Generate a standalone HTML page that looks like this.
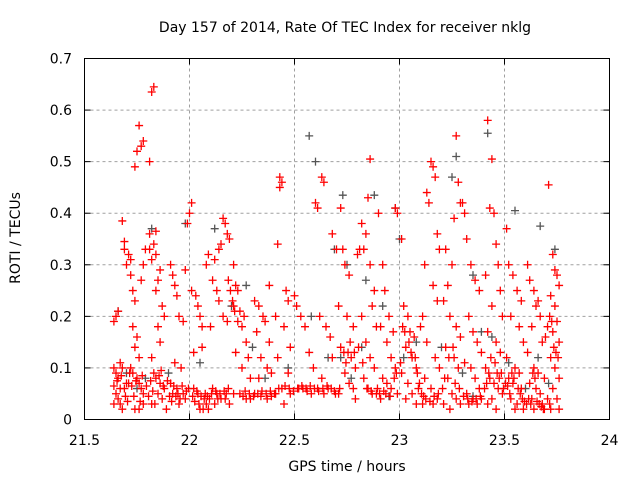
<!DOCTYPE html>
<html><head><meta charset="utf-8"><style>
html,body{margin:0;padding:0;background:#fff;}
svg{display:block;font-family:"DejaVu Sans","Liberation Sans",sans-serif;}
</style></head><body>
<svg id="chart" width="640" height="480">
<text x="345" y="32" font-size="14" text-anchor="middle" fill="#000">Day 157 of 2014, Rate Of TEC Index for receiver nklg</text>
<text x="347" y="471" font-size="14" text-anchor="middle" fill="#000">GPS time / hours</text>
<text transform="translate(20,238) rotate(-90)" font-size="14" text-anchor="middle" fill="#000">ROTI / TECUs</text>
<g id="grid"></g>
<g id="ticks"></g>
<g id="gray"></g>
<g id="red"></g>
<rect x="84.5" y="58.5" width="525" height="361" fill="none" stroke="#000" stroke-width="1"/>
</svg>
<script>
const xTicks = [21.5, 22, 22.5, 23, 23.5, 24];
const xTickLabels = ["21.5", "22", "22.5", "23", "23.5", "24"];
const yTicks = [0, 0.1, 0.2, 0.3, 0.4, 0.5, 0.6, 0.7];
const yTickLabels = ["0", "0.1", "0.2", "0.3", "0.4", "0.5", "0.6", "0.7"];
const redPoints = [
[21.64,0.19],[21.65,0.20],[21.64,0.10],[21.65,0.09],[21.66,0.08],[21.64,0.065],[21.67,0.06],[21.65,0.05],[21.66,0.04],[21.64,0.03],[21.68,0.02],[21.68,0.385],[21.69,0.345],[21.69,0.33],[21.70,0.30],[21.66,0.21],[21.67,0.11],[21.68,0.10],[21.69,0.06],[21.67,0.03],[21.70,0.07],
[21.71,0.32],[21.72,0.31],[21.72,0.28],[21.73,0.25],[21.74,0.23],[21.73,0.18],[21.75,0.16],[21.74,0.14],[21.76,0.12],[21.72,0.10],[21.73,0.09],[21.75,0.08],[21.76,0.07],[21.77,0.06],[21.78,0.05],[21.71,0.07],[21.74,0.02],[21.76,0.02],[21.78,0.03],[21.79,0.33],[21.78,0.30],[21.77,0.27],
[21.76,0.57],[21.75,0.52],[21.74,0.49],[21.77,0.53],[21.78,0.54],[21.82,0.635],[21.83,0.645],[21.81,0.50],
[21.81,0.33],[21.83,0.34],[21.84,0.32],[21.82,0.31],[21.86,0.29],[21.85,0.27],[21.84,0.25],[21.87,0.22],[21.88,0.20],[21.85,0.18],[21.86,0.15],[21.82,0.12],[21.83,0.09],[21.84,0.08],[21.86,0.07],[21.88,0.06],[21.85,0.05],[21.87,0.04],[21.82,0.03],[21.89,0.02],[21.81,0.36],[21.84,0.365],
[21.91,0.30],[21.92,0.28],[21.93,0.26],[21.94,0.24],[21.95,0.20],[21.97,0.19],[21.93,0.11],[21.96,0.10],[21.91,0.07],[21.94,0.06],[21.97,0.05],[21.92,0.05],[21.98,0.04],[21.95,0.03],[21.99,0.38],[22.00,0.40],[22.01,0.42],[21.98,0.29],
[22.01,0.25],[22.03,0.24],[22.04,0.22],[22.05,0.20],[22.06,0.18],[22.02,0.06],[22.04,0.05],[22.07,0.04],[22.08,0.03],[22.05,0.02],[22.09,0.02],[22.08,0.30],[22.09,0.32],[22.02,0.13],[22.06,0.14],
[22.16,0.39],[22.17,0.38],[22.18,0.36],[22.19,0.35],[22.15,0.34],[22.14,0.33],[22.12,0.31],[22.11,0.27],[22.13,0.25],[22.14,0.23],[22.16,0.20],[22.18,0.19],[22.11,0.06],[22.13,0.05],[22.15,0.04],[22.17,0.04],[22.12,0.03],[22.19,0.03],[22.10,0.18],
[22.21,0.30],[22.22,0.26],[22.23,0.25],[22.21,0.22],[22.24,0.21],[22.26,0.20],[22.25,0.18],[22.27,0.15],[22.22,0.13],[22.28,0.12],[22.25,0.10],[22.29,0.08],[22.21,0.05],[22.24,0.05],[22.27,0.04],[22.29,0.04],[22.23,0.19],
[22.31,0.23],[22.33,0.22],[22.35,0.20],[22.36,0.19],[22.32,0.17],[22.38,0.15],[22.34,0.12],[22.37,0.10],[22.39,0.09],[22.33,0.08],[22.31,0.05],[22.34,0.045],[22.37,0.04],[22.39,0.045],[22.38,0.26],
[22.43,0.47],[22.44,0.46],[22.43,0.45],[22.42,0.34],[22.46,0.25],[22.47,0.23],[22.41,0.20],[22.45,0.18],[22.48,0.14],[22.42,0.12],[22.47,0.09],[22.44,0.06],[22.48,0.05],[22.41,0.05],[22.45,0.03],
[22.51,0.22],[22.53,0.20],[22.55,0.18],[22.57,0.13],[22.59,0.10],[22.52,0.06],[22.54,0.06],[22.56,0.055],[22.58,0.05],[22.50,0.24],[22.60,0.42],
[22.63,0.47],[22.64,0.46],[22.61,0.41],[22.62,0.20],[22.65,0.18],[22.67,0.16],[22.68,0.12],[22.63,0.08],[22.61,0.06],[22.66,0.06],[22.69,0.055],[22.64,0.05],[22.68,0.36],[22.70,0.33],
[22.72,0.41],[22.73,0.33],[22.74,0.30],[22.76,0.28],[22.71,0.22],[22.75,0.20],[22.78,0.18],[22.72,0.14],[22.77,0.12],[22.79,0.10],[22.74,0.09],[22.76,0.07],[22.78,0.06],[22.71,0.05],[22.79,0.04],[22.80,0.32],[22.81,0.33],
[22.86,0.505],[22.85,0.43],[22.82,0.38],[22.84,0.36],[22.83,0.33],[22.86,0.30],[22.88,0.25],[22.87,0.22],[22.82,0.20],[22.89,0.18],[22.84,0.15],[22.86,0.12],[22.88,0.10],[22.83,0.08],[22.85,0.06],[22.87,0.05],[22.89,0.05],[22.90,0.40],
[22.98,0.41],[22.99,0.40],[22.92,0.30],[22.93,0.25],[22.95,0.20],[22.91,0.18],[22.97,0.17],[22.94,0.15],[22.96,0.12],[22.98,0.10],[22.92,0.08],[22.94,0.07],[22.96,0.06],[22.99,0.05],[22.91,0.04],
[23.01,0.35],[23.02,0.22],[23.04,0.20],[23.05,0.17],[23.07,0.16],[23.03,0.14],[23.06,0.12],[23.08,0.10],[23.01,0.09],[23.04,0.07],[23.09,0.06],[23.06,0.05],[23.03,0.04],[23.08,0.03],[23.10,0.18],
[23.15,0.50],[23.16,0.49],[23.17,0.47],[23.13,0.44],[23.14,0.42],[23.18,0.36],[23.19,0.33],[23.12,0.30],[23.16,0.26],[23.18,0.23],[23.11,0.20],[23.13,0.15],[23.17,0.12],[23.19,0.10],[23.12,0.08],[23.15,0.06],[23.18,0.04],[23.11,0.03],[23.16,0.03],
[23.27,0.55],[23.28,0.46],[23.29,0.42],[23.26,0.39],[23.22,0.33],[23.25,0.30],[23.23,0.26],[23.21,0.23],[23.24,0.20],[23.27,0.18],[23.29,0.16],[23.22,0.14],[23.26,0.12],[23.28,0.10],[23.23,0.08],[23.25,0.05],[23.27,0.04],[23.21,0.03],[23.29,0.03],[23.24,0.02],
[23.30,0.42],[23.31,0.40],[23.32,0.35],[23.34,0.30],[23.36,0.27],[23.38,0.25],[23.33,0.20],[23.35,0.17],[23.37,0.15],[23.39,0.13],[23.31,0.11],[23.34,0.10],[23.36,0.08],[23.38,0.06],[23.32,0.05],[23.35,0.04],[23.39,0.04],[23.33,0.03],[23.37,0.03],
[23.42,0.58],[23.44,0.505],[23.43,0.41],[23.45,0.40],[23.46,0.34],[23.47,0.30],[23.41,0.28],[23.48,0.25],[23.44,0.22],[23.49,0.20],[23.42,0.17],[23.46,0.15],[23.48,0.13],[23.41,0.10],[23.43,0.08],[23.45,0.07],[23.47,0.06],[23.49,0.05],[23.44,0.04],[23.42,0.03],[23.46,0.02],
[23.51,0.37],[23.52,0.30],[23.54,0.28],[23.56,0.25],[23.58,0.23],[23.53,0.20],[23.57,0.18],[23.59,0.15],[23.51,0.12],[23.55,0.10],[23.57,0.09],[23.52,0.08],[23.54,0.07],[23.58,0.06],[23.53,0.04],[23.56,0.03],[23.59,0.02],[23.55,0.02],
[23.61,0.30],[23.62,0.27],[23.64,0.25],[23.66,0.23],[23.65,0.22],[23.67,0.20],[23.63,0.18],[23.68,0.15],[23.61,0.13],[23.64,0.10],[23.66,0.09],[23.69,0.08],[23.62,0.07],[23.65,0.06],[23.67,0.05],[23.63,0.04],[23.68,0.03],[23.64,0.02],[23.69,0.02],
[23.71,0.455],[23.73,0.32],[23.74,0.29],[23.75,0.28],[23.76,0.26],[23.72,0.24],[23.74,0.22],[23.75,0.19],[23.73,0.17],[23.76,0.15],[23.72,0.12],[23.74,0.10],[23.76,0.08],[23.73,0.06],[23.75,0.04],[23.72,0.02],[23.76,0.02],
[21.655,0.075],[21.675,0.085],[21.695,0.045],[21.705,0.035],[21.715,0.09],[21.725,0.065],[21.735,0.045],[21.745,0.075],[21.765,0.035],[21.775,0.085],[21.795,0.065],[21.805,0.045],[21.815,0.075],[21.825,0.055],[21.835,0.03],[21.855,0.085],[21.865,0.095],[21.875,0.065],[21.895,0.075],[21.905,0.045],[21.915,0.035],[21.925,0.065],[21.935,0.045],[21.945,0.05],[21.955,0.04],[21.965,0.065],[21.985,0.055],[21.995,0.06],[22.015,0.045],[22.025,0.035],[22.035,0.055],[22.045,0.03],[22.055,0.045],[22.065,0.02],[22.075,0.05],[22.085,0.045],[22.095,0.04],[22.105,0.05],[22.125,0.055],[22.135,0.04],[22.145,0.05],[22.165,0.055],[22.175,0.05],[22.185,0.06],[22.195,0.25],[22.205,0.23],[22.215,0.21],[22.185,0.27],
[22.255,0.045],[22.265,0.055],[22.285,0.05],[22.305,0.045],[22.325,0.05],[22.345,0.055],[22.365,0.05],[22.385,0.055],[22.405,0.05],[22.425,0.06],[22.455,0.065],[22.475,0.06],[22.495,0.055],[22.515,0.06],[22.535,0.065],[22.555,0.06],[22.575,0.065],[22.595,0.06],[22.615,0.055],[22.635,0.06],[22.655,0.065],[22.675,0.06],[22.695,0.05],[22.715,0.06],[22.735,0.13],[22.745,0.11],[22.755,0.13],[22.765,0.15],[22.785,0.13],[22.805,0.14],[22.825,0.11],[22.845,0.06],[22.865,0.055],[22.895,0.06],[22.905,0.05],[22.925,0.055],[22.935,0.05],[22.955,0.045],[22.975,0.08],[22.985,0.09],[23.005,0.11],[23.015,0.18],[23.025,0.17],[23.045,0.15],[23.055,0.13],[23.075,0.12],[23.085,0.09],[23.095,0.07],
[23.105,0.05],[23.115,0.045],[23.125,0.04],[23.145,0.035],[23.165,0.045],[23.185,0.05],[23.205,0.06],[23.215,0.08],[23.235,0.12],[23.255,0.14],[23.265,0.07],[23.285,0.06],[23.305,0.045],[23.325,0.04],[23.345,0.035],[23.365,0.04],[23.385,0.045],[23.405,0.06],[23.415,0.07],[23.425,0.09],[23.435,0.12],[23.455,0.11],[23.465,0.09],[23.475,0.08],[23.485,0.09],[23.495,0.06],[23.505,0.07],[23.515,0.065],[23.525,0.05],[23.535,0.09],[23.545,0.08],[23.565,0.06],[23.575,0.05],[23.585,0.04],[23.595,0.035],[23.605,0.03],[23.615,0.04],[23.625,0.03],[23.635,0.09],[23.645,0.08],[23.655,0.035],[23.665,0.03],[23.675,0.025],[23.685,0.02],[23.695,0.16],[23.705,0.18],[23.715,0.2],[23.725,0.19],[23.735,0.14],[23.745,0.13],[23.755,0.12],[23.705,0.04],[23.715,0.03]
];
const grayPoints = [
[22.57,0.55],[22.60,0.50],[23.27,0.51],[23.42,0.555],[23.25,0.47],[22.73,0.435],[22.88,0.435],[22.98,0.41],[23.00,0.35],[21.98,0.38],[21.82,0.37],[22.12,0.37],[22.27,0.26],[23.67,0.375],[23.55,0.405],[23.74,0.33],[22.69,0.33],[22.75,0.30],[23.35,0.28],
[21.66,0.21],[21.70,0.09],[21.75,0.06],[21.79,0.08],[21.90,0.09],[22.05,0.11],[22.20,0.22],[22.30,0.14],[22.36,0.08],[22.47,0.10],[22.58,0.20],[22.66,0.12],[22.72,0.12],[22.77,0.08],[22.84,0.27],[22.92,0.22],[23.02,0.12],[23.08,0.15],[23.20,0.14],[23.30,0.09],[23.39,0.17],[23.44,0.16],[23.52,0.11],[23.60,0.06],[23.66,0.12],[23.71,0.07],[23.35,0.045],[22.95,0.045],[22.82,0.14]
];
const X0=84.5, X1=609.5, Y0=419.5, Y1=58.5;
function xs(t){return X0+(t-21.5)/(24-21.5)*(X1-X0);}
function ys(v){return Y0-(v-0)/(0.7-0)*(Y0-Y1);}
const NS="http://www.w3.org/2000/svg";
const grid=document.getElementById('grid'), ticks=document.getElementById('ticks');
function mk(tag,attrs,parent){const e=document.createElementNS(NS,tag);for(const k in attrs)e.setAttribute(k,attrs[k]);parent.appendChild(e);return e;}
xTicks.forEach((t,i)=>{
  const x=xs(t);
  if(i>0&&i<xTicks.length-1){
    const g=mk('line',{x1:x,x2:x,y1:Y0,y2:Y1,stroke:'#a0a0a0','stroke-dasharray':'3,3'},grid);
    
    
  }
  mk('line',{x1:x,x2:x,y1:Y0,y2:Y0-6,stroke:'#000'},ticks);
  mk('line',{x1:x,x2:x,y1:Y1,y2:Y1+6,stroke:'#000'},ticks);
  const l=mk('text',{x:x,y:445,'font-size':14,'text-anchor':'middle',fill:'#000'},ticks);
  l.textContent=xTickLabels[i];
  
  
});
yTicks.forEach((v,i)=>{
  const y=ys(v);
  if(i>0&&i<yTicks.length-1){
    const g=mk('line',{x1:X0,x2:X1,y1:y,y2:y,stroke:'#a0a0a0','stroke-dasharray':'3,3'},grid);
    
    
  }
  mk('line',{x1:X0,x2:X0+6,y1:y,y2:y,stroke:'#000'},ticks);
  mk('line',{x1:X1,x2:X1-6,y1:y,y2:y,stroke:'#000'},ticks);
  const l=mk('text',{x:72,y:y+5,'font-size':14,'text-anchor':'end',fill:'#000'},ticks);
  l.textContent=yTickLabels[i];
  
  
});
function plus(p,color,parent,name){
  const x=xs(p[0]), y=ys(p[1]);
  const e=mk('path',{d:`M${x-4} ${y}H${x+4}M${x} ${y-4}V${y+4}`,stroke:color,'stroke-width':1.3,fill:'none'},parent);
  
  
}
grayPoints.forEach(p=>plus(p,'#555555',document.getElementById('gray'),'gray-point'));
redPoints.forEach(p=>plus(p,'#ff0000',document.getElementById('red'),'red-point'));
</script>
</body></html>
